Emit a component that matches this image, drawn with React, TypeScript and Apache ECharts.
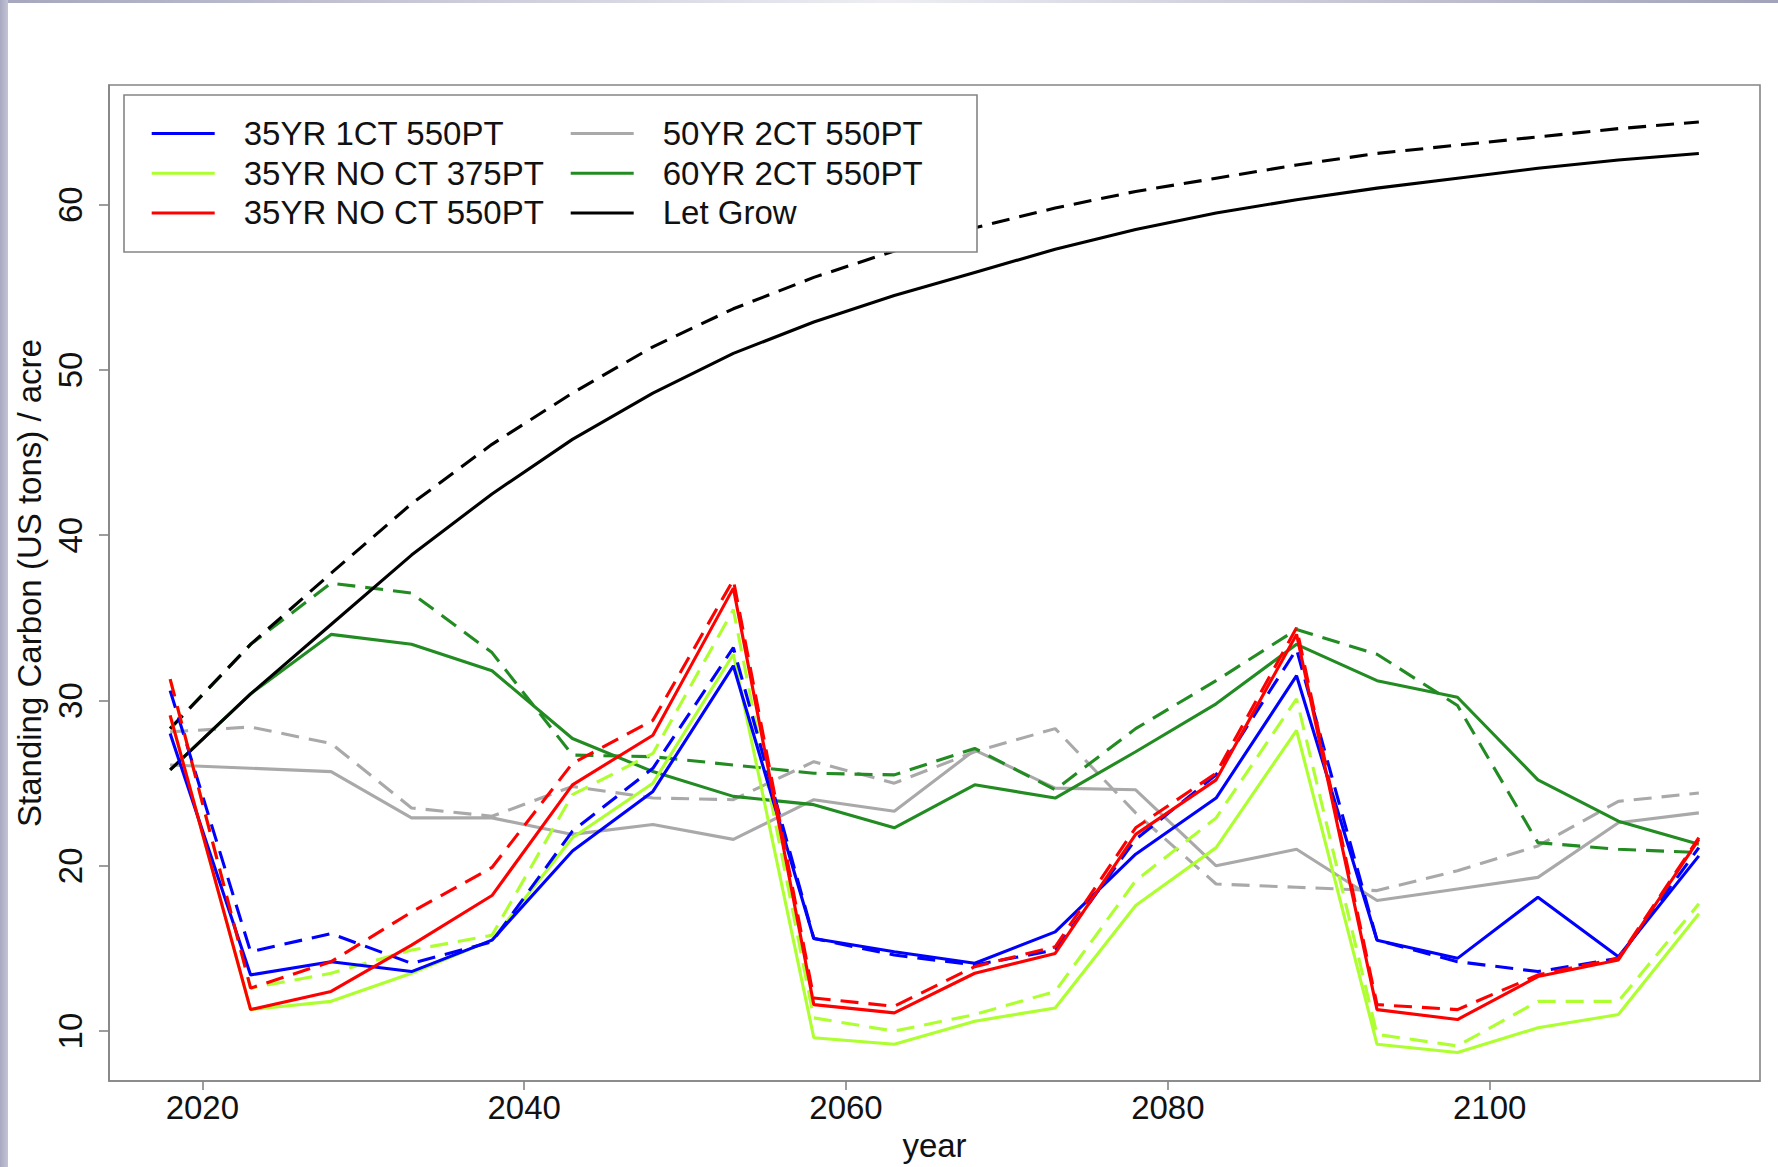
import { useEffect, useRef } from "react";
import * as echarts from "echarts";

// Simulation years (5-year steps)
const YEARS = [2018, 2023, 2028, 2033, 2038, 2043, 2048, 2053, 2058, 2063, 2068, 2073, 2078, 2083, 2088, 2093, 2098, 2103, 2108, 2113];

// Standing carbon (US tons / acre); solid = base run, dashed = alternate run
const R35_1CT_550 = [28.0, 13.4, 14.2, 13.6, 15.5, 20.9, 24.5, 32.1, 15.6, 14.8, 14.1, 16.0, 20.7, 24.1, 31.5, 15.5, 14.4, 18.1, 14.5, 20.6];
const R35_1CT_550_ALT = [30.6, 14.8, 15.9, 14.1, 15.4, 22.1, 25.9, 33.2, 15.6, 14.6, 14.0, 14.9, 21.6, 25.5, 33.1, 15.5, 14.2, 13.6, 14.4, 21.1];
const R35_NOCT_375 = [29.1, 11.3, 11.8, 13.5, 15.5, 21.7, 25.0, 32.8, 9.6, 9.2, 10.6, 11.4, 17.6, 21.1, 28.2, 9.2, 8.7, 10.2, 11.0, 17.1];
const R35_NOCT_375_ALT = [31.3, 12.6, 13.5, 14.9, 15.8, 24.3, 26.8, 35.5, 10.8, 10.0, 11.0, 12.4, 19.1, 22.9, 30.1, 9.8, 9.1, 11.8, 11.8, 17.7];
const R35_NOCT_550 = [29.1, 11.3, 12.4, 15.2, 18.2, 24.9, 27.9, 36.8, 11.6, 11.1, 13.5, 14.7, 21.9, 25.2, 34.0, 11.3, 10.7, 13.3, 14.3, 21.6];
const R35_NOCT_550_ALT = [31.3, 12.6, 14.2, 17.2, 19.9, 26.2, 28.8, 37.3, 12.0, 11.5, 13.9, 15.1, 22.3, 25.6, 34.4, 11.6, 11.3, 13.4, 14.4, 21.7];
const R50_2CT_550 = [26.1, 25.9, 25.7, 22.9, 22.9, 21.9, 22.5, 21.6, 24.0, 23.3, 27.0, 24.7, 24.6, 20.0, 21.0, 17.9, 18.6, 19.3, 22.6, 23.2];
const R50_2CT_550_ALT = [28.1, 28.4, 27.4, 23.5, 23.0, 24.8, 24.1, 24.0, 26.3, 25.0, 26.9, 28.3, 23.2, 18.9, 18.7, 18.5, 19.7, 21.2, 23.9, 24.4];
const R60_2CT_550 = [25.8, 30.4, 34.0, 33.4, 31.8, 27.7, 25.7, 24.2, 23.7, 22.3, 24.9, 24.1, 26.9, 29.8, 33.4, 31.2, 30.2, 25.2, 22.7, 21.3];
const R60_2CT_550_ALT = [28.3, 33.4, 37.1, 36.5, 32.9, 26.7, 26.6, 26.1, 25.6, 25.5, 27.1, 24.6, 28.3, 31.2, 34.3, 32.8, 29.7, 21.4, 21.0, 20.8];
const LET_GROW = [25.8, 30.4, 34.6, 38.8, 42.5, 45.8, 48.6, 51.0, 52.9, 54.5, 55.9, 57.3, 58.5, 59.5, 60.3, 61.0, 61.6, 62.2, 62.7, 63.1];
const LET_GROW_ALT = [28.3, 33.4, 37.7, 41.9, 45.5, 48.6, 51.4, 53.7, 55.6, 57.2, 58.6, 59.8, 60.8, 61.6, 62.4, 63.1, 63.6, 64.1, 64.6, 65.0];

const X_TICKS = [2020, 2040, 2060, 2080, 2100];
const Y_TICKS = [10, 20, 30, 40, 50, 60];

const LEGEND_COL_1 = ["35YR 1CT 550PT", "35YR NO CT 375PT", "35YR NO CT 550PT"];
const LEGEND_COL_2 = ["50YR 2CT 550PT", "60YR 2CT 550PT", "Let Grow"];

const FONT = "'Liberation Sans', Arial, Helvetica, sans-serif";
const TEXT = "#111111";
const FRAME = "#858585";

type Run = { name: string; values: number[]; color: string; dashed: boolean };

// drawing order: later entries sit on top
const RUNS: Run[] = [
  { name: "50YR 2CT 550PT", values: R50_2CT_550, color: "#a9a9a9", dashed: false },
  { name: "50YR 2CT 550PT (alt)", values: R50_2CT_550_ALT, color: "#a9a9a9", dashed: true },
  { name: "60YR 2CT 550PT", values: R60_2CT_550, color: "#228b22", dashed: false },
  { name: "60YR 2CT 550PT (alt)", values: R60_2CT_550_ALT, color: "#228b22", dashed: true },
  { name: "Let Grow", values: LET_GROW, color: "#000000", dashed: false },
  { name: "Let Grow (alt)", values: LET_GROW_ALT, color: "#000000", dashed: true },
  { name: "35YR NO CT 375PT", values: R35_NOCT_375, color: "#adff2f", dashed: false },
  { name: "35YR NO CT 375PT (alt)", values: R35_NOCT_375_ALT, color: "#adff2f", dashed: true },
  { name: "35YR 1CT 550PT", values: R35_1CT_550, color: "#0000ff", dashed: false },
  { name: "35YR 1CT 550PT (alt)", values: R35_1CT_550_ALT, color: "#0000ff", dashed: true },
  { name: "35YR NO CT 550PT", values: R35_NOCT_550, color: "#ff0000", dashed: false },
  { name: "35YR NO CT 550PT (alt)", values: R35_NOCT_550_ALT, color: "#ff0000", dashed: true },
];

const legendBlock = (names: string[], left: number) => ({
  data: names,
  orient: "vertical",
  left,
  top: 117,
  padding: 0,
  itemWidth: 63,
  itemHeight: 3,
  itemGap: 6.7,
  icon: "rect",
  selectedMode: false,
  z: 100,
  textStyle: {
    fontFamily: FONT,
    fontSize: 33,
    lineHeight: 33,
    color: TEXT,
    padding: [0, 0, 0, 24],
  },
});

const plain = (v: number) => String(v);

function buildOption() {
  return {
    animation: false,
    backgroundColor: "#ffffff",
    textStyle: { fontFamily: FONT },
    graphic: [
      {
        type: "rect",
        z: 1,
        shape: { x: 0, y: 0, width: 1778, height: 3 },
        style: {
          fill: new echarts.graphic.LinearGradient(0, 0, 1, 0, [
            { offset: 0, color: "#a6a6be" },
            { offset: 0.5, color: "#ededf3" },
            { offset: 1, color: "#a2a2ba" },
          ]),
        },
      },
      {
        type: "rect",
        z: 1,
        shape: { x: 0, y: 0, width: 8, height: 1167 },
        style: {
          fill: new echarts.graphic.LinearGradient(0, 0, 1, 0, [
            { offset: 0, color: "#a8a8c0" },
            { offset: 1, color: "#c4c4d6" },
          ]),
        },
      },
      {
        type: "rect",
        z: 50,
        shape: { x: 124, y: 95, width: 853, height: 157 },
        style: { fill: "#ffffff", stroke: FRAME, lineWidth: 1.6 },
      },
    ],
    legend: [legendBlock(LEGEND_COL_1, 151.7), legendBlock(LEGEND_COL_2, 570.7)],
    grid: {
      left: 109,
      right: 18,
      top: 85,
      bottom: 83,
      show: true,
      borderColor: FRAME,
      borderWidth: 1.6,
      containLabel: false,
    },
    xAxis: {
      type: "value",
      min: 2014.2,
      max: 2116.8,
      name: "year",
      nameLocation: "middle",
      nameGap: 48,
      nameTextStyle: { fontFamily: FONT, fontSize: 33, color: TEXT },
      axisLine: { show: true, lineStyle: { color: FRAME, width: 1.6 } },
      axisTick: { show: true, length: 9, customValues: X_TICKS, lineStyle: { color: FRAME, width: 1.6 } },
      axisLabel: { customValues: X_TICKS, formatter: plain, fontFamily: FONT, fontSize: 33, color: TEXT, margin: 10 },
      splitLine: { show: false },
    },
    yAxis: {
      type: "value",
      min: 6.98,
      max: 67.24,
      name: "Standing Carbon (US tons) / acre",
      nameLocation: "middle",
      nameRotate: 90,
      nameGap: 54,
      nameTextStyle: { fontFamily: FONT, fontSize: 33, color: TEXT },
      axisLine: { show: true, lineStyle: { color: FRAME, width: 1.6 } },
      axisTick: { show: true, length: 10, customValues: Y_TICKS, lineStyle: { color: FRAME, width: 1.6 } },
      axisLabel: { customValues: Y_TICKS, formatter: plain, rotate: 90, fontFamily: FONT, fontSize: 33, color: TEXT, margin: 22 },
      splitLine: { show: false },
    },
    series: RUNS.map((r) => ({
      name: r.name,
      type: "line",
      data: YEARS.map((yr, i) => [yr, r.values[i]]),
      symbol: "none",
      showSymbol: false,
      color: r.color,
      itemStyle: { color: r.color },
      lineStyle: {
        color: r.color,
        width: 3.1,
        type: r.dashed ? [18, 10] : "solid",
        cap: "butt",
      },
      emphasis: { disabled: true },
      z: 2,
    })),
  };
}

export default function App() {
  const ref = useRef<HTMLDivElement>(null);

  useEffect(() => {
    document.body.style.margin = "0";
    document.body.style.overflow = "hidden";
    document.documentElement.style.overflow = "hidden";
    if (!ref.current) return;
    const chart = echarts.init(ref.current, null, { renderer: "svg" });
    chart.setOption(buildOption() as any);
    return () => chart.dispose();
  }, []);

  return <div ref={ref} style={{ width: 1778, height: 1167, overflow: "hidden", background: "#ffffff" }} />;
}
